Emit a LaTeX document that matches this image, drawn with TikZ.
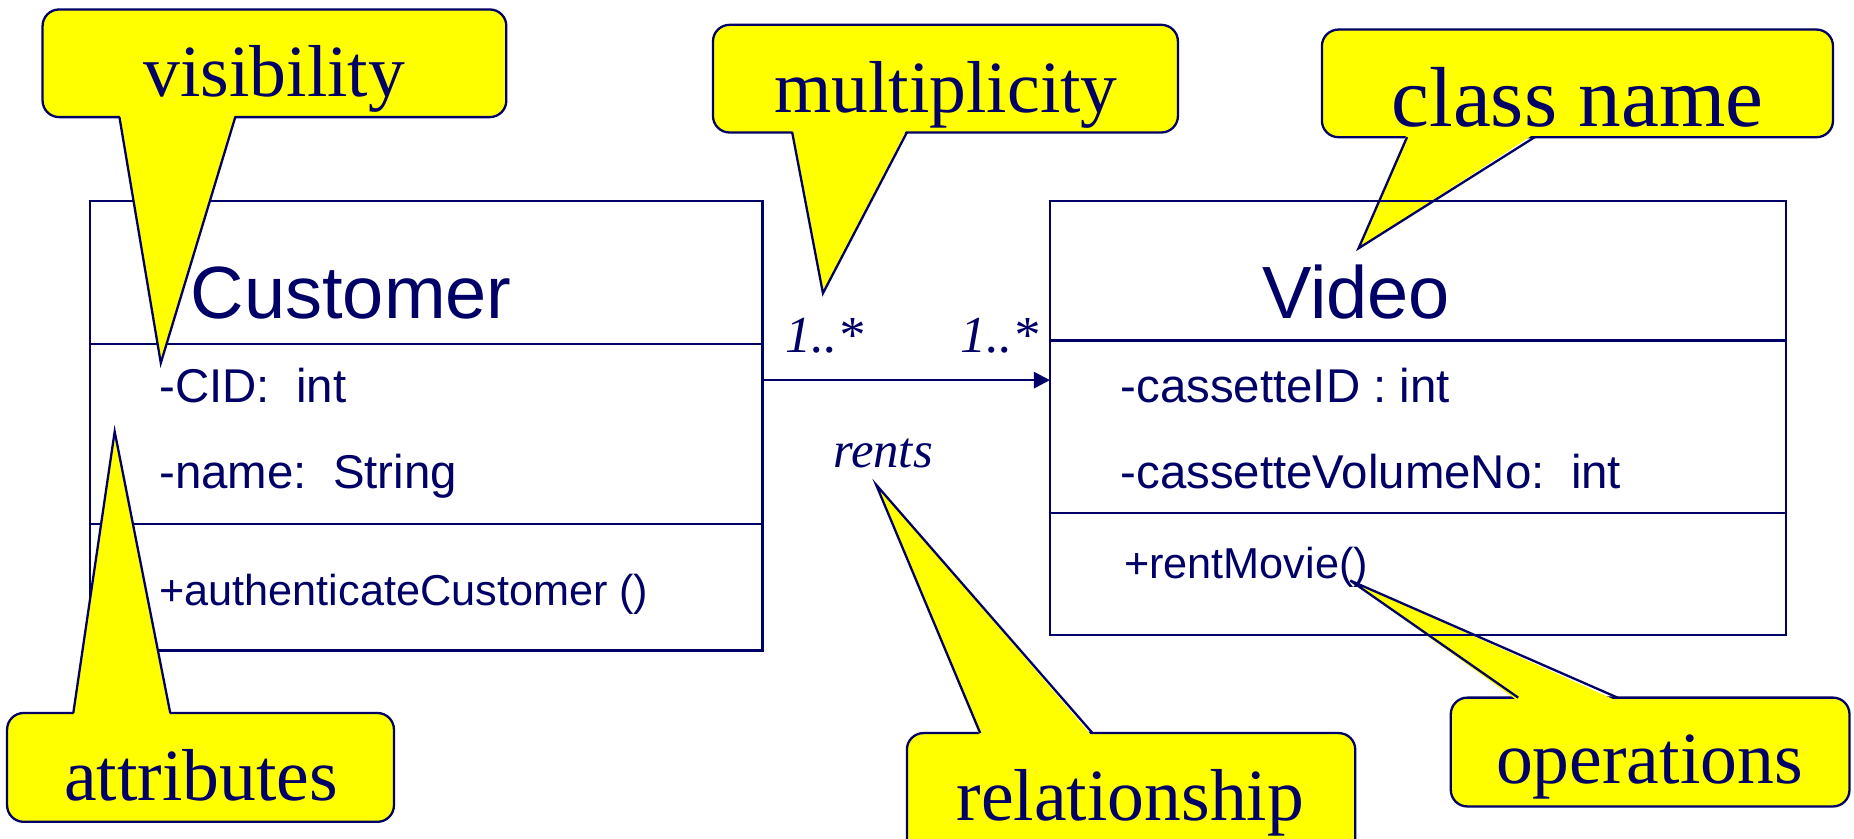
\documentclass[tikz,border=0pt]{standalone}
\usepackage{fontspec}
\setmainfont{Liberation Serif}
\setsansfont{Liberation Sans}
\usetikzlibrary{arrows.meta}
\definecolor{navy}{RGB}{0,0,102}
\definecolor{cyell}{RGB}{255,255,0}
\begin{document}
\begin{tikzpicture}[x=0.01cm,y=-0.01cm,
  thinline/.style={draw=navy, line width=0.55pt},
  classbox/.style={draw=navy, line width=0.55pt, inner sep=0pt, outer sep=0pt, anchor=north west},
  cbox/.style={draw=navy, fill=cyell, line width=0.55pt, rounded corners=0.14cm, inner sep=0pt, outer sep=0pt, anchor=north west},
  ptr/.style={draw=navy, line width=0.55pt, line join=miter},
  ctext/.style={inner sep=0pt, anchor=base, text=navy, font=\fontsize{17.7pt}{20pt}\selectfont},
  cname/.style={inner sep=0pt, anchor=base, text=navy, font=\sffamily\fontsize{17.8pt}{20pt}\selectfont},
  attr/.style={inner sep=0pt, anchor=base west, text=navy, font=\sffamily\fontsize{11.4pt}{13pt}\selectfont},
  oper/.style={inner sep=0pt, anchor=base west, text=navy, font=\sffamily\fontsize{10.4pt}{12pt}\selectfont},
  mult/.style={inner sep=0pt, anchor=base west, text=navy, font=\itshape\fontsize{12.5pt}{14pt}\selectfont},
  assoc/.style={draw=navy, line width=0.65pt, -{Triangle[length=3.9pt,width=3.9pt]}}
]
\useasboundingbox (0,0) rectangle (1568,709);
\clip (0,0) rectangle (1568,709);

% ---------- callouts drawn behind the class boxes ----------
% class name
\node[cbox, minimum width=4.32cm, minimum height=0.91cm] (cnB) at (1118,25) {};
\coordinate (cnT) at (1149,210);
\fill[cyell] (1190,113) -- (cnT) -- (1298,113) -- cycle;
\draw[ptr] (1190,116) -- (cnT) -- (1298,116);
\node[ctext, font=\fontsize{20.5pt}{23pt}\selectfont] (cnL) at (1334,107) {class name};

% operations
\node[cbox, minimum width=3.37cm, minimum height=0.92cm] (opB) at (1227,590) {};
\coordinate (opT) at (1142,491);
\fill[cyell] (1284,593) -- (opT) -- (1368,593) -- cycle;
\draw[ptr] (1284,590) -- (opT) -- (1368,590);
\node[ctext] (opL) at (1395,663) {operations};

% ---------- class boxes ----------
\node[classbox, minimum width=5.685cm, minimum height=3.8cm] (cust) at (76,170) {};
\draw[thinline] (76,291) -- (644.5,291);
\draw[thinline] (76,443) -- (644.5,443);
\node[cname] (custN) at (297,269) {Customer};
\node[attr] (cid) at (134,340) {-CID:\ \ int};
\node[attr] (cnm) at (134,413) {-name:\ \ String};
\node[oper] (auth) at (134,512) {+authenticateCustomer ()};

\node[classbox, minimum width=6.22cm, minimum height=3.67cm] (video) at (888,170) {};
\draw[thinline] (888,288) -- (1510,288);
\draw[thinline] (888,434) -- (1510,434);
\node[cname] (videoN) at (1147,269) {Video};
\node[attr] (cass) at (947,340) {-cassetteID : int};
\node[attr] (cvol) at (947,413) {-cassetteVolumeNo:\ \ int};
\node[oper] (rent) at (950,489) {+rentMovie()};

% association
\coordinate (ay) at (0,321.5);
\draw[assoc] (cust.east |- ay) -- (video.west |- ay);
\node[mult] (m1) at (664,298) {1..*};
\node[mult] (m2) at (812,298) {1..*};
\node[mult, font=\itshape\fontsize{12.2pt}{14pt}\selectfont] (rents) at (704,395) {rents};

% ---------- callouts drawn on top ----------
% attributes
\node[cbox, minimum width=3.27cm, minimum height=0.92cm] (attB) at (6,603) {};
\coordinate (attT) at (97,365);
\fill[cyell] (62,606) -- (attT) -- (144,606) -- cycle;
\draw[ptr] (62,603) -- (attT) -- (144,603);
\node[ctext] (attL) at (170,677) {attributes};

% visibility
\node[cbox, minimum width=3.92cm, minimum height=0.91cm] (visB) at (36,8) {};
\coordinate (visT) at (136,307);
\fill[cyell] (101,96) -- (visT) -- (199,96) -- cycle;
\draw[ptr] (101,99) -- (visT) -- (199,99);
\node[ctext] (visL) at (232,82) {visibility};

% multiplicity
\node[cbox, minimum width=3.93cm, minimum height=0.91cm] (mulB) at (603,21) {};
\coordinate (mulT) at (696,248);
\fill[cyell] (670,109) -- (mulT) -- (767,109) -- cycle;
\draw[ptr] (670,112) -- (mulT) -- (767,112);
\node[ctext] (mulL) at (800,95) {multiplicity};

% relationship
\node[cbox, minimum width=3.79cm, minimum height=1.4cm] (relB) at (767,620) {};
\coordinate (relT) at (741,410);
\fill[cyell] (829,623) -- (relT) -- (924,623) -- cycle;
\draw[ptr] (829,620) -- (relT) -- (924,620);
\node[ctext] (relL) at (956,694) {relationship};
\end{tikzpicture}
\end{document}
